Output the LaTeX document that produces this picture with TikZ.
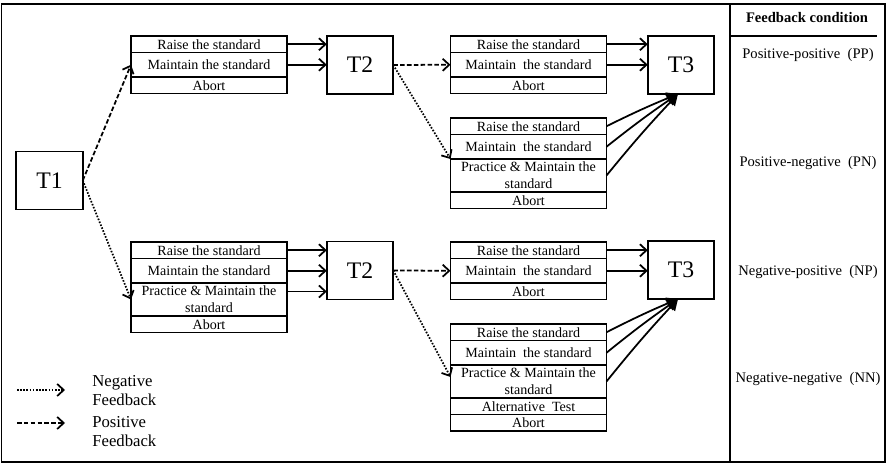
\documentclass[tikz,border=0pt]{standalone}
\usepackage{fontspec}
\setmainfont{Liberation Serif}
\usetikzlibrary{positioning,arrows.meta}
\tikzset{
  tbox/.style={draw,line width=1pt,minimum width=13.3mm,minimum height=11.6mm,inner sep=0pt,outer sep=0pt,font=\fontsize{13.5}{16}\selectfont},
  opt/.style={draw,line width=1pt,minimum width=31.2mm,inner sep=0pt,outer sep=0pt,align=center,font=\fontsize{8}{9.6}\selectfont},
  h1/.style={minimum height=3.3mm},
  h2/.style={minimum height=4.9mm},
  h3/.style={minimum height=6.6mm},
  sip/.style={-{Straight Barb[length=1.3mm,width=2.4mm]},line width=1pt},
  posfb/.style={sip,dash pattern=on 2.6pt off 1.3pt},
  negfb/.style={sip,dash pattern=on 0.9pt off 0.9pt},
  zber/.style={-{Triangle[length=2.2mm,width=2.4mm]},line width=1pt},
  leg/.style={align=left,inner sep=0pt,font=\fontsize{9.5}{10.8}\selectfont},
  cond/.style={font=\fontsize{8.3}{10}\selectfont},
}
\begin{document}
\begin{tikzpicture}[x=0.2mm,y=-0.2mm]
  \useasboundingbox (0,0) rectangle (888,464);
  \draw[line width=1.1pt] (1.5,4) rectangle (885,462);
  \draw[line width=1.1pt] (730,4) -- (730,462);
  % T1
  \node[tbox] (t1) at (49.5,180.5) {T1};
  % positive after T1
  \node[opt,h1,anchor=north] (a1) at (209,36) {Raise the standard};
  \node[opt,h2] (a2) [below=0pt of a1] {Maintain the standard};
  \node[opt,h1] (a3) [below=0pt of a2] {Abort};
  \node[tbox] (t2) at (360,65) {T2};
  \node[opt,h1,anchor=north] (b1) at (528.5,36) {Raise the standard};
  \node[opt,h2] (b2) [below=0pt of b1] {Maintain~ the standard};
  \node[opt,h1] (b3) [below=0pt of b2] {Abort};
  \node[opt,h1,anchor=north] (c1) at (528.5,118) {Raise the standard};
  \node[opt,h2] (c2) [below=0pt of c1] {Maintain~ the standard};
  \node[opt,h3] (c3) [below=0pt of c2] {Practice \& Maintain the\\standard};
  \node[opt,h1] (c4) [below=0pt of c3] {Abort};
  \node[tbox] (t3) at (681,65) {T3};
  % negative after T1
  \node[opt,h1,anchor=north] (d1) at (209,242) {Raise the standard};
  \node[opt,h2] (d2) [below=0pt of d1] {Maintain the standard};
  \node[opt,h3] (d3) [below=0pt of d2] {Practice \& Maintain the\\standard};
  \node[opt,h1] (d4) [below=0pt of d3] {Abort};
  \node[tbox] (u2) at (360,270.5) {T2};
  \node[opt,h1,anchor=north] (e1) at (528.5,242) {Raise the standard};
  \node[opt,h2] (e2) [below=0pt of e1] {Maintain~ the standard};
  \node[opt,h1] (e3) [below=0pt of e2] {Abort};
  \node[opt,h1,anchor=north] (f1) at (528.5,324) {Raise the standard};
  \node[opt,h2] (f2) [below=0pt of f1] {Maintain~ the standard};
  \node[opt,h3] (f3) [below=0pt of f2] {Practice \& Maintain the\\standard};
  \node[opt,h1] (f4) [below=0pt of f3] {Alternative~ Test};
  \node[opt,h1] (f5) [below=0pt of f4] {Abort};
  \node[tbox] (u3) at (681,270) {T3};
  % spoje
  \draw[posfb] (t1.east) -- (a2.west);
  \draw[negfb] (t1.east) -- (d3.west);
  \draw[sip] (a1.east) -- (a1.east -| t2.west);
  \draw[sip] (a2.east) -- (a2.east -| t2.west);
  \draw[posfb] (t2.east) -- (b2.west);
  \draw[negfb] (t2.east) -- (c3.north west);
  \draw[sip] (b1.east) -- (b1.east -| t3.west);
  \draw[sip] (b2.east) -- (b2.east -| t3.west);
  \foreach \r in {c1,c2,c3}
    \draw[zber] (\r.east) to[bend left=2] ([xshift=-0.6mm]t3.south);
  \draw[sip] (d1.east) -- (d1.east -| u2.west);
  \draw[sip] (d2.east) -- (d2.east -| u2.west);
  \draw[sip] ([yshift=1.6mm]d3.east) -- ([yshift=1.6mm]d3.east -| u2.west);
  \draw[posfb] (u2.east) -- (e2.west);
  \draw[negfb] (u2.east) -- ([yshift=-2.4mm]f3.north west);
  \draw[sip] (e1.east) -- (e1.east -| u3.west);
  \draw[sip] (e2.east) -- (e2.east -| u3.west);
  \foreach \r in {f1,f2,f3}
    \draw[zber] (\r.east) to[bend left=2] ([xshift=-0.6mm]u3.south);
  % legenda
  \coordinate (n1) at (17,390);
  \coordinate (n2) at (65,390);
  \draw[negfb] (n1) -- (n2);
  \node[leg,anchor=west] (neg) at (92,390.5) {Negative\\Feedback};
  \coordinate (p1) at (17,423);
  \coordinate (p2) at (65,423);
  \draw[posfb] (p1) -- (p2);
  \node[leg,anchor=west] (pos) at (92,431.5) {Positive\\Feedback};
  % feedback condition
  \node[font=\bfseries\fontsize{8.3}{10}\selectfont] (fc) at (807,18) {Feedback condition};
  \draw[line width=1.3pt] (730,36) -- (877,36);
  \node[cond] (pp) at (808,55) {Positive-positive~~(PP)};
  \node[cond] (pn) at (808,163) {Positive-negative~~(PN)};
  \node[cond] (np) at (808,272) {Negative-positive~~(NP)};
  \node[cond] (nn) at (808,379) {Negative-negative~~(NN)};
\end{tikzpicture}
\end{document}
